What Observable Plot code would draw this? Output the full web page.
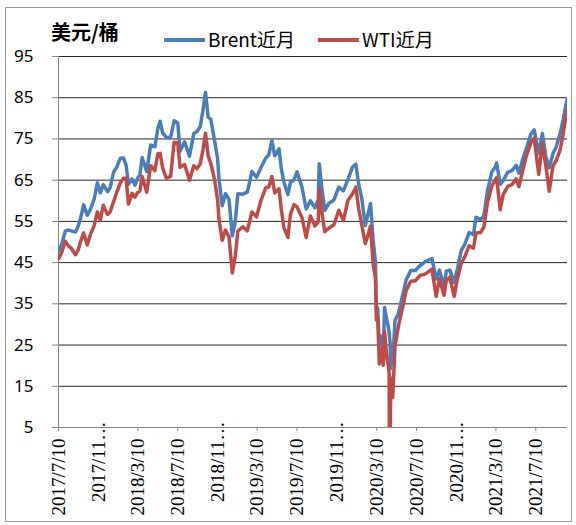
<!DOCTYPE html>
<html><head><meta charset="utf-8">
<script src="https://cdn.jsdelivr.net/npm/d3@7"></script>
<script src="https://cdn.jsdelivr.net/npm/@observablehq/plot@0.6"></script>
<style>
html,body{margin:0;padding:0;background:#fff;}
#wrap{position:relative;width:576px;height:525px;overflow:hidden;background:#fff;}
#border{position:absolute;left:5px;top:7px;width:567px;height:515px;border:1px solid #9a9a9a;box-sizing:border-box;}
#chart{position:absolute;left:0;top:0;}
#title{position:absolute;left:51px;top:22px;font-weight:bold;font-size:20px;font-family:"Noto Sans CJK SC";line-height:20px;color:#000;}
.leg{position:absolute;top:29px;font-size:19px;font-family:"Noto Sans CJK SC";line-height:19px;color:#000;white-space:nowrap;}
.sw{position:absolute;top:38px;height:4px;width:41px;}
</style></head>
<body><div id="wrap">
<div id="border"></div>
<div id="chart"></div>
<div id="title"></div>
<div id="legend"></div>
</div>
<script>
const titleText = "美元/桶";
const seriesNames = ["Brent近月", "WTI近月"];
const seriesColors = ["#4A7EBB", "#BE4B48"];

const dates = [
"2017-07-10","2017-07-20","2017-07-31","2017-08-10","2017-08-18","2017-08-31","2017-09-08","2017-09-15","2017-09-25","2017-10-06",
"2017-10-16","2017-10-27","2017-11-06","2017-11-15","2017-11-24","2017-12-07","2017-12-15","2017-12-26","2018-01-04","2018-01-15",
"2018-01-25","2018-02-02","2018-02-09","2018-02-20","2018-03-01","2018-03-09","2018-03-16","2018-03-23","2018-04-06","2018-04-18",
"2018-05-01","2018-05-10","2018-05-17","2018-05-25","2018-06-05","2018-06-18","2018-06-29","2018-07-10","2018-07-17","2018-07-31",
"2018-08-15","2018-08-28","2018-09-07","2018-09-17","2018-09-25","2018-10-03","2018-10-11","2018-10-19","2018-10-31","2018-11-09",
"2018-11-13","2018-11-23","2018-12-03","2018-12-14","2018-12-24","2019-01-02","2019-01-10","2019-01-25","2019-02-08","2019-02-22",
"2019-03-08","2019-03-21","2019-04-05","2019-04-15","2019-04-24","2019-05-03","2019-05-16","2019-05-23","2019-05-31","2019-06-12",
"2019-06-20","2019-07-01","2019-07-10","2019-07-25","2019-08-07","2019-08-20","2019-09-03","2019-09-13","2019-09-16","2019-09-24",
"2019-10-03","2019-10-16","2019-10-31","2019-11-15","2019-11-29","2019-12-13","2019-12-27","2020-01-06","2020-01-15","2020-01-24",
"2020-02-04","2020-02-14","2020-02-20","2020-02-28","2020-03-06","2020-03-09","2020-03-13","2020-03-18","2020-03-24","2020-03-30",
"2020-04-03","2020-04-09","2020-04-14","2020-04-17","2020-04-20","2020-04-21","2020-04-24","2020-04-28","2020-05-05","2020-05-15",
"2020-06-01","2020-06-08","2020-06-22","2020-07-06","2020-07-21","2020-08-05","2020-08-26","2020-09-08","2020-09-18","2020-10-02",
"2020-10-09","2020-10-20","2020-11-02","2020-11-12","2020-11-24","2020-12-04","2020-12-18","2020-12-31","2021-01-08","2021-01-22",
"2021-02-01","2021-02-12","2021-02-25","2021-03-08","2021-03-12","2021-03-23","2021-04-01","2021-04-15","2021-04-28","2021-05-11",
"2021-05-19","2021-06-01","2021-06-11","2021-06-25","2021-07-05","2021-07-19","2021-07-30","2021-08-10","2021-08-20","2021-09-01",
"2021-09-10","2021-09-22","2021-10-01","2021-10-08","2021-10-15"
];
const brent = [
47.7,49.5,52.7,52.9,52.7,52.4,53.8,55.6,59.0,56.5,
58.0,60.4,64.3,61.9,63.9,62.2,63.2,67.0,68.1,70.3,
70.4,68.6,64.0,65.3,63.8,65.5,66.2,70.5,67.1,73.5,
73.1,77.5,79.3,76.4,75.4,75.3,79.4,78.9,72.0,74.3,
70.8,76.3,76.8,78.0,81.9,86.3,80.3,79.8,74.5,70.2,
65.5,58.8,61.7,60.3,51.5,54.9,61.7,61.6,62.1,67.1,
65.7,67.9,70.3,71.2,74.6,70.9,72.6,67.8,64.5,61.5,
64.5,65.1,67.0,63.4,58.0,60.0,58.3,60.2,69.0,63.1,
57.7,59.4,60.2,63.3,62.4,65.2,68.2,68.9,64.0,60.7,
54.0,57.3,59.3,50.5,45.3,34.4,33.9,24.9,27.2,22.8,
34.1,31.5,29.6,28.1,25.6,19.3,21.4,20.5,31.0,32.5,
38.3,40.8,43.1,43.1,44.3,45.2,46.0,41.0,43.2,39.3,
42.9,43.2,40.2,43.5,48.0,49.3,52.3,51.8,56.0,55.4,
56.4,62.4,66.9,68.2,69.2,64.0,64.9,66.9,67.3,68.6,
66.7,70.3,72.7,76.2,77.2,71.5,76.3,70.6,68.0,71.6,
72.9,76.2,79.3,82.4,84.9
];
const wti = [
45.9,47.5,50.2,49.0,48.5,46.9,48.0,50.0,52.2,49.3,
51.9,53.9,57.3,55.3,58.9,56.7,57.3,59.9,62.0,64.3,
65.5,65.4,59.2,61.8,60.9,62.0,62.3,65.9,62.1,68.5,
67.3,71.4,71.5,67.9,65.5,65.9,74.2,74.0,68.1,68.8,
65.0,68.5,67.8,69.0,72.3,76.4,70.9,69.1,65.0,60.2,
55.7,50.4,52.9,51.2,42.5,46.5,52.6,53.7,52.7,57.3,
56.1,59.9,63.1,63.4,65.9,61.9,62.9,57.9,53.5,51.1,
56.7,59.1,58.5,56.0,51.1,56.3,53.9,54.9,62.9,57.3,
52.5,53.4,54.2,57.7,55.2,60.1,61.7,63.3,58.0,54.2,
49.6,52.1,53.8,44.8,41.3,31.1,31.7,20.4,24.0,20.1,
28.3,22.8,20.1,18.3,-37.6,10.0,17.0,12.3,24.6,29.4,
35.4,38.2,40.5,40.6,41.9,42.2,43.4,36.8,41.1,37.1,
40.6,41.5,36.8,41.1,44.9,46.3,49.1,48.5,52.2,52.3,
53.6,59.5,63.5,65.1,65.6,57.8,61.5,63.5,63.9,65.3,
63.4,67.7,70.9,74.1,75.2,66.4,74.0,68.3,62.3,68.6,
69.7,72.2,75.9,79.4,82.3
];

const yTicks = [5, 15, 25, 35, 45, 55, 65, 75, 85, 95];
const xTickDates = ["2017-07-10","2017-11-10","2018-03-10","2018-07-10","2018-11-10","2019-03-10","2019-07-10",
                    "2019-11-10","2020-03-10","2020-07-10","2020-11-10","2021-03-10","2021-07-10"];
const xTickLabels = ["2017/7/10","2017/11…","2018/3/10","2018/7/10","2018/11…","2019/3/10","2019/7/10",
                     "2019/11…","2020/3/10","2020/7/10","2020/11…","2021/3/10","2021/7/10"];
const xStart = "2017-07-10", xEnd = "2021-10-15";

const rows = dates.map((d, i) => ({date: new Date(d), brent: brent[i], wti: wti[i]}));
const labelOf = new Map(xTickDates.map((d, i) => [+new Date(d), xTickLabels[i]]));
const normalTicks = xTickDates.filter((d, i) => !xTickLabels[i].endsWith("…")).map(d => new Date(d));
const truncTicks = xTickDates.filter((d, i) => xTickLabels[i].endsWith("…")).map(d => new Date(d));
const fmt = d => labelOf.get(+d);

const chart = Plot.plot({
  width: 576, height: 525,
  marginLeft: 58, marginRight: 9, marginTop: 56, marginBottom: 98,
  x: {type: "utc", domain: [new Date(xStart), new Date(xEnd)]},
  y: {domain: [5, 95]},
  style: {background: "transparent", color: "#000", overflow: "visible"},
  marks: [
    Plot.ruleY(yTicks.filter(v => v > 5), {stroke: "#262626", strokeWidth: 1}),
    Plot.ruleX([new Date(xStart)], {stroke: "#868686", strokeWidth: 1}),
    Plot.ruleY([5], {stroke: "#868686", strokeWidth: 1}),
    Plot.line(rows, {x: "date", y: "brent", stroke: seriesColors[0], strokeWidth: 3.5, clip: true, strokeLinejoin: "round"}),
    Plot.line(rows, {x: "date", y: "wti", stroke: seriesColors[1], strokeWidth: 3.5, clip: true, strokeLinejoin: "round"}),
    Plot.axisY({ticks: yTicks, tickSize: 6, tickPadding: 19, stroke: "#868686", fontSize: 17, fontFamily: "Noto Sans", label: null}),
    Plot.axisX({ticks: normalTicks, tickSize: 4, tickPadding: 7, tickRotate: -90, tickFormat: fmt, stroke: "#868686",
                fontSize: 19, fontFamily: "Liberation Serif", label: null}),
    Plot.text(truncTicks, {x: d => d, frameAnchor: "bottom", text: fmt, rotate: -90, textAnchor: "end",
                lineAnchor: "middle", dy: -6, fontSize: 19, fontFamily: "Liberation Serif", fill: "#000"})
  ]
});
document.getElementById("chart").appendChild(chart);
document.getElementById("title").textContent = titleText;

const legend = document.getElementById("legend");
const legPos = [[164, 208], [318, 362]];
seriesNames.forEach((name, i) => {
  const sw = document.createElement("div");
  sw.className = "sw"; sw.style.left = legPos[i][0] + "px"; sw.style.background = seriesColors[i];
  const tx = document.createElement("div");
  tx.className = "leg"; tx.style.left = legPos[i][1] + "px"; tx.textContent = name;
  legend.appendChild(sw); legend.appendChild(tx);
});
</script>
</body></html>
